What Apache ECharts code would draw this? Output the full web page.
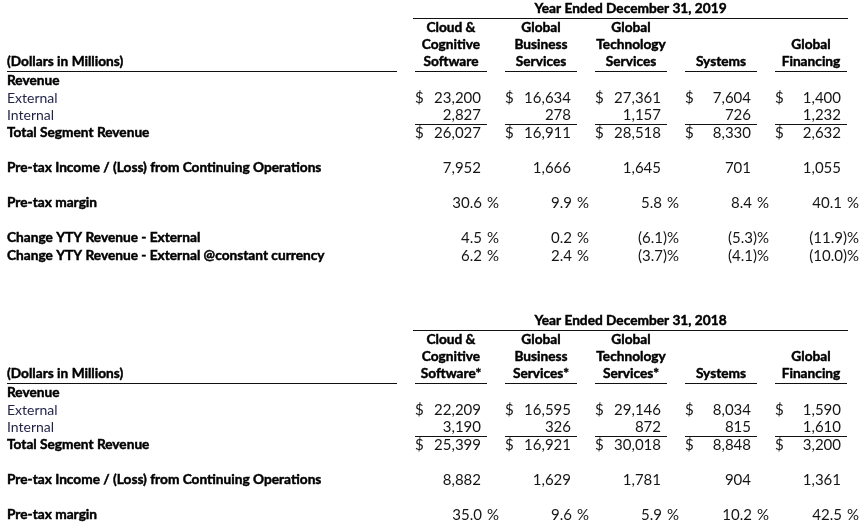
<!DOCTYPE html>
<html>
<head>
<meta charset="utf-8">
<script src="https://cdn.jsdelivr.net/npm/echarts@6/dist/echarts.min.js"></script>
<style>
html,body{margin:0;padding:0;background:#fff;}
#chart{width:861px;height:527px;}
</style>
</head>
<body>
<div id="chart"></div>
<script>
// ---------- DATA ----------
const headers2019 = [["Cloud &","Cognitive","Software"],["Global","Business","Services"],["Global","Technology","Services"],["Systems"],["Global","Financing"]];
const headers2018 = [["Cloud &","Cognitive","Software*"],["Global","Business","Services*"],["Global","Technology","Services*"],["Systems"],["Global","Financing"]];
const title2019 = "Year Ended December 31, 2019";
const title2018 = "Year Ended December 31, 2018";
const unitLabel = "(Dollars in Millions)";
const rowLabels2019 = ["Revenue","External","Internal","Total Segment Revenue","Pre-tax Income / (Loss) from Continuing Operations","Pre-tax margin","Change YTY Revenue - External","Change YTY Revenue - External @constant currency"];
const rowLabels2018 = ["Revenue","External","Internal","Total Segment Revenue","Pre-tax Income / (Loss) from Continuing Operations","Pre-tax margin"];

const external2019 = [23200, 16634, 27361, 7604, 1400];
const internal2019 = [2827, 278, 1157, 726, 1232];
const total2019    = [26027, 16911, 28518, 8330, 2632];
const pretax2019   = [7952, 1666, 1645, 701, 1055];
const margin2019   = [30.6, 9.9, 5.8, 8.4, 40.1];
const ytyExt2019   = [4.5, 0.2, -6.1, -5.3, -11.9];
const ytyCc2019    = [6.2, 2.4, -3.7, -4.1, -10.0];

const external2018 = [22209, 16595, 29146, 8034, 1590];
const internal2018 = [3190, 326, 872, 815, 1610];
const total2018    = [25399, 16921, 30018, 8848, 3200];
const pretax2018   = [8882, 1629, 1781, 904, 1361];
const margin2018   = [35.0, 9.6, 5.9, 10.2, 42.5];

// ---------- LAYOUT ----------
const W = 861, H = 527;
const FONT = "Lato, 'Open Sans', sans-serif";
const FS_NUM = 15, FS_LABEL = 14, FS_BOLD = 13.7;
const labelX = 7;
const firstColRight = 481, colStep = 90;
const colRight = i => firstColRight + i * colStep;
const tableOffset2018 = 312;

const cells = [];   // text cells
const rules = [];   // horizontal rules

function txt(x, y, text, align, kind, color) {
  const bold = kind === 'bold';
  cells.push({x, y, text, align, bold,
    size: bold ? FS_BOLD : (kind === 'label' ? FS_LABEL : FS_NUM),
    color: color || (bold ? '#000' : '#151515')});
}
function rule(x1, x2, y) { rules.push({x1, x2, y}); }
const fmtNum = v => v.toLocaleString('en-US');

function buildTable(off, title, headers, labels, ext, intl, tot, pre, mar, extras) {
  const tl = colRight(0) - 68, tr = colRight(4) + 7;
  txt((tl + tr) / 2, off + 9, title, 'center', 'bold');
  rule(tl, tr, off + 18);
  const lineY = [off + 28, off + 45, off + 62];
  headers.forEach((h, i) => {
    const cx = colRight(i) - 30;
    h.forEach((ln, k) => txt(cx, lineY[3 - h.length + k], ln, 'center', 'bold'));
    rule(colRight(i) - 66, colRight(i) + 6, off + 71);
  });
  txt(labelX, off + 62, unitLabel, 'left', 'bold');
  rule(labelX, 397, off + 71);
  const rowY = [off + 81, off + 98, off + 115, off + 133, off + 168, off + 203, off + 238, off + 256];
  labels.forEach((l, r) => {
    const plain = (r === 1 || r === 2);
    txt(labelX, rowY[r], l, 'left', plain ? 'label' : 'bold', plain ? '#1f2147' : '#000');
  });
  for (let i = 0; i < 5; i++) {
    const R = colRight(i), L = R - 66;
    txt(L, rowY[1], '$', 'left');
    txt(R, rowY[1], fmtNum(ext[i]), 'right');
    txt(R, rowY[2], fmtNum(intl[i]), 'right');
    rule(L, R + 6, off + 124);
    txt(L, rowY[3], '$', 'left');
    txt(R, rowY[3], fmtNum(tot[i]), 'right');
    txt(R, rowY[4], fmtNum(pre[i]), 'right');
    const pctRows = [mar].concat(extras);
    pctRows.forEach((arr, k) => {
      const v = arr[i], y = rowY[5 + k];
      if (v < 0) txt(R + 6, y, '(' + Math.abs(v).toFixed(1) + ')', 'right');
      else txt(R + 1, y, v.toFixed(1), 'right');
      txt(R + 6, y, '%', 'left');
    });
  }
}
buildTable(0, title2019, headers2019, rowLabels2019, external2019, internal2019, total2019, pretax2019, margin2019, [ytyExt2019, ytyCc2019]);
buildTable(tableOffset2018, title2018, headers2018, rowLabels2018, external2018, internal2018, total2018, pretax2018, margin2018, []);

// ---------- CHART ----------
const chart = echarts.init(document.getElementById('chart'), null, {renderer: 'canvas'});
chart.setOption({
  animation: false,
  backgroundColor: '#ffffff',
  grid: {left: 0, right: 0, top: 0, bottom: 0},
  xAxis: {type: 'value', min: 0, max: W, show: false},
  yAxis: {type: 'value', min: 0, max: H, inverse: true, show: false},
  series: [
    {
      type: 'custom',
      silent: true,
      data: rules.map(r => [r.x1, r.y, r.x2]),
      encode: {x: [0, 2], y: 1},
      renderItem: function (params, api) {
        const a = api.coord([api.value(0), api.value(1)]);
        const b = api.coord([api.value(2), api.value(1)]);
        const y = Math.round(a[1]) + 0.5;
        return {type: 'line', shape: {x1: a[0], y1: y, x2: b[0], y2: y}, style: {stroke: '#111', lineWidth: 1}};
      }
    },
    {
      type: 'custom',
      silent: true,
      data: cells.map(c => [c.x, c.y]),
      encode: {x: 0, y: 1},
      renderItem: function (params, api) {
        const c = cells[params.dataIndex];
        const p = api.coord([api.value(0), api.value(1)]);
        const style = {
          text: c.text,
          fill: c.color,
          fontFamily: FONT,
          fontSize: c.size,
          fontWeight: c.bold ? 'bold' : 'normal',
          align: c.align,
          verticalAlign: 'middle'
        };
        if (c.bold) { style.stroke = c.color; style.lineWidth = 0.45; }
        return {type: 'text', x: p[0], y: p[1], style: style};
      }
    }
  ]
});
</script>
</body>
</html>
